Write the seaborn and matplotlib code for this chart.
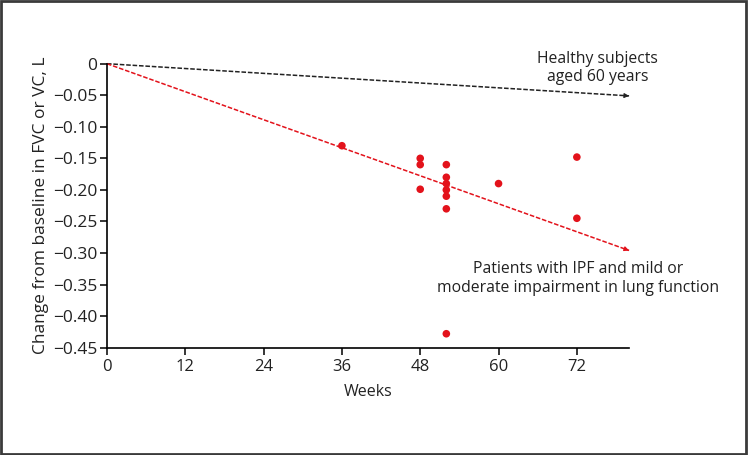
import matplotlib
matplotlib.use('Agg')
import matplotlib.pyplot as plt
import matplotlib.ticker as mticker
from matplotlib.patches import Rectangle
import pandas as pd
import seaborn as sns

# Data
weeks = [36, 48, 48, 48, 52, 52, 52, 52, 52, 52, 52, 60, 72, 72]
fvc_change = [-0.130, -0.150, -0.160, -0.199, -0.160, -0.180, -0.190, -0.200,
              -0.210, -0.230, -0.428, -0.190, -0.148, -0.245]

healthy_x = [0, 80]
healthy_y = [0, -0.051]
ipf_x = [0, 80]
ipf_y = [0, -0.296]

x_ticks = [0, 12, 24, 36, 48, 60, 72]
y_ticks = [0, -0.05, -0.10, -0.15, -0.20, -0.25, -0.30, -0.35, -0.40, -0.45]

sns.set_style('ticks')
plt.rcParams['font.family'] = ['Open Sans', 'DejaVu Sans']

red = '#e3121b'
ink = '#222222'

fig = plt.figure(figsize=(7.48, 4.55), dpi=100)
ax = fig.add_axes([0.143, 0.236, 0.698, 0.624])

df = pd.DataFrame({'Weeks': weeks, 'Change': fvc_change})
sns.lineplot(x=healthy_x, y=healthy_y, ax=ax, color=ink, lw=1.1,
             linestyle=(0, (3, 1.2)), clip_on=False)
sns.lineplot(x=ipf_x, y=ipf_y, ax=ax, color=red, lw=1.1,
             linestyle=(0, (3, 1.2)), clip_on=False)


def head(xs, ys, color):
    dx = xs[1] - xs[0]
    dy = ys[1] - ys[0]
    ax.annotate('', xy=(xs[1], ys[1]),
                xytext=(xs[1] - dx * 0.01, ys[1] - dy * 0.01),
                arrowprops=dict(arrowstyle='-|>', color=color, lw=0.8,
                                mutation_scale=7, shrinkA=0, shrinkB=0),
                annotation_clip=False)


head(healthy_x, healthy_y, ink)
head(ipf_x, ipf_y, red)

sns.scatterplot(data=df, x='Weeks', y='Change', ax=ax, color=red, s=30,
                edgecolor='none', zorder=5, clip_on=False)

ax.set_xlim(0, 80)
ax.set_ylim(-0.45, 0)
ax.set_xticks(x_ticks)
ax.set_yticks(y_ticks)


def fmt(v, pos):
    if abs(v) < 1e-9:
        return '0'
    return ('%.2f' % v).replace('-', '\u2212')


ax.yaxis.set_major_formatter(mticker.FuncFormatter(fmt))
ax.tick_params(axis='x', labelsize=12, labelcolor=ink, length=5, width=1.1,
               direction='out', color='black', pad=3)
ax.tick_params(axis='y', labelsize=12.5, labelcolor=ink, length=5, width=1.1,
               direction='out', color='black', pad=2)
sns.despine(ax=ax)
for s in ['left', 'bottom']:
    ax.spines[s].set_linewidth(1.2)
    ax.spines[s].set_color('black')

ax.set_xlabel('Weeks', fontsize=11.5, color=ink, labelpad=7)
ax.set_ylabel('Change from baseline in FVC or VC, L', fontsize=12.5,
              color=ink, labelpad=3)

ax.text(75.2, -0.007, 'Healthy subjects\naged 60 years', ha='center',
        va='center', fontsize=11.3, color=ink, linespacing=1.2)
ax.text(72.2, -0.340, 'Patients with IPF and mild or\nmoderate impairment in lung function',
        ha='center', va='center', fontsize=11.3, color=ink, linespacing=1.25)

fig.patches.append(Rectangle((0.002, 0.003), 0.995, 0.994,
                             transform=fig.transFigure, fill=False,
                             edgecolor='#3a3a3a', lw=2))

fig.savefig('out.png', dpi=100)
